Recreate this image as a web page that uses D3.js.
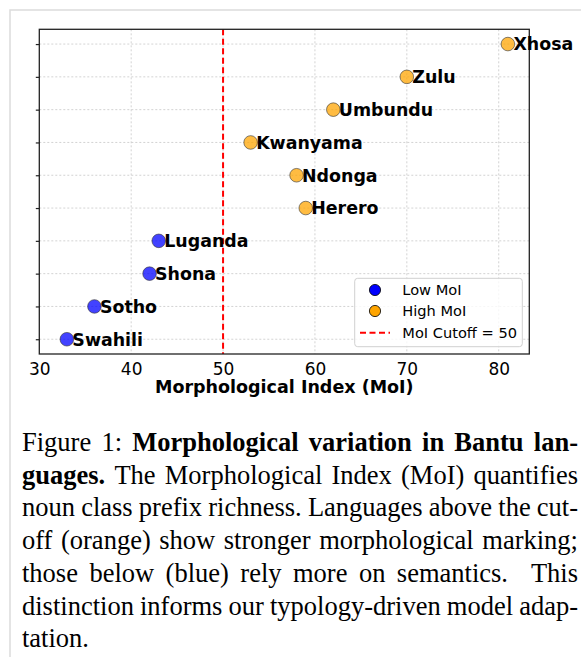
<!DOCTYPE html>
<html lang="en">
<head>
<meta charset="UTF-8">
<title>Morphological Index</title>
<script src="https://cdn.jsdelivr.net/npm/d3@7"></script>
<style>
    body { margin: 0; background: #fff; }
    svg { display: block; }
</style>
</head>
<body>
<div id="fig"></div>
<script>
    // data (bottom to top)
    const languages = ["Swahili", "Sotho", "Shona", "Luganda", "Herero", "Ndonga", "Kwanyama", "Umbundu", "Zulu", "Xhosa"]
    const moi = [33, 36, 42, 43, 59, 58, 53, 62, 70, 81]
    const cutoff = 50
    const xTicks = [30, 40, 50, 60, 70, 80]
    const legendLabels = ["Low MoI", "High MoI", "MoI Cutoff = 50"]

    // caption lines, each a list of [text, bold]
    const captionLines = [
        [["Figure 1:", false], ["Morphological variation in Bantu lan-", true]],
        [["guages.", true], ["The Morphological Index (MoI) quantifies", false]],
        [["noun class prefix richness. Languages above the cut-", false]],
        [["off (orange) show stronger morphological marking;", false]],
        [["those below (blue) rely more on semantics.  This", false]],
        [["distinction informs our typology-driven model adap-", false]],
        [["tation.", false]]
    ]

    const W = 581, H = 657
    const plot = {left: 39.3, top: 29.3, right: 529.3, bottom: 354}
    const blue = "#0000ff", orange = "#ffa500"

    let svg = d3.select("#fig").append("svg")
        .attr("width", W).attr("height", H)
        .style("font-family", "'DejaVu Sans', sans-serif")

    // page frame
    svg.append("rect")
        .attr("x", 10).attr("y", 10).attr("width", 700).attr("height", 800)
        .attr("fill", "none").attr("stroke", "#dcdcdc").attr("stroke-width", 1.5)

    const data = languages.map((d, i) => ({name: d, value: moi[i]}))

    const xScale = d3.scaleLinear().domain([30, 83.33]).range([plot.left, plot.right])
    const yScale = d3.scalePoint().domain(languages).range([plot.bottom, plot.top]).padding(0.45)

    // grid
    let grid = svg.append("g")
    grid.selectAll(".vgrid").data(xTicks.filter(d => d > 30)).enter().append("line")
        .attr("x1", d => xScale(d)).attr("x2", d => xScale(d))
        .attr("y1", plot.top).attr("y2", plot.bottom)
        .attr("stroke", "#c8c8c8").attr("stroke-width", 0.8).attr("stroke-dasharray", "2,2")
    grid.selectAll(".hgrid").data(languages).enter().append("line")
        .attr("x1", plot.left).attr("x2", plot.right)
        .attr("y1", d => yScale(d)).attr("y2", d => yScale(d))
        .attr("stroke", "#c8c8c8").attr("stroke-width", 0.8).attr("stroke-dasharray", "2,2")

    // cutoff line
    svg.append("line")
        .attr("x1", xScale(cutoff)).attr("x2", xScale(cutoff))
        .attr("y1", plot.top).attr("y2", plot.bottom)
        .attr("stroke", "red").attr("stroke-width", 2).attr("stroke-dasharray", "6,3.5")

    // points
    svg.selectAll(".pt").data(data).enter().append("circle")
        .attr("cx", d => xScale(d.value)).attr("cy", d => yScale(d.name))
        .attr("r", 6.8)
        .attr("fill", d => d.value > cutoff ? orange : blue)
        .attr("fill-opacity", 0.74)
        .attr("stroke", "#333").attr("stroke-opacity", 0.6).attr("stroke-width", 1)

    // frame of axes
    svg.append("rect")
        .attr("x", plot.left).attr("y", plot.top)
        .attr("width", plot.right - plot.left).attr("height", plot.bottom - plot.top)
        .attr("fill", "none").attr("stroke", "#222").attr("stroke-width", 1.3)

    // axes
    const xAxis = svg.append("g")
        .attr("transform", `translate(0,${plot.bottom})`)
        .call(d3.axisBottom(xScale).tickValues(xTicks).tickSize(0).tickPadding(8.5))
    xAxis.select(".domain").remove()
    xAxis.selectAll("text").attr("font-size", 17).attr("fill", "#000")
        .style("font-family", "'DejaVu Sans', sans-serif")

    const yAxis = svg.append("g")
        .attr("transform", `translate(${plot.left},0)`)
        .call(d3.axisLeft(yScale).tickSize(3.5).tickFormat(""))
    yAxis.select(".domain").remove()
    yAxis.selectAll("line").attr("stroke", "#222").attr("stroke-width", 1.2)

    svg.append("text")
        .attr("x", (plot.left + plot.right) / 2).attr("y", 392.7)
        .attr("text-anchor", "middle").attr("font-weight", "bold").attr("font-size", 17.5)
        .text("Morphological Index (MoI)")

    // point labels
    svg.selectAll(".lbl").data(data).enter().append("text")
        .attr("x", d => xScale(d.value) + 5.5).attr("y", d => yScale(d.name))
        .attr("dy", "0.36em")
        .attr("font-weight", "bold").attr("font-size", 17.4)
        .text(d => d.name)

    // legend
    let legend = svg.append("g").attr("transform", "translate(354.7,278.3)")
    legend.append("rect")
        .attr("width", 167.6).attr("height", 68.4).attr("rx", 3)
        .attr("fill", "#fff").attr("fill-opacity", 0.8)
        .attr("stroke", "#d0d0d0").attr("stroke-width", 1)
    const rowY = [11.7, 32.7, 54.4]
    legend.append("circle").attr("cx", 20.3).attr("cy", rowY[0]).attr("r", 5.6)
        .attr("fill", blue).attr("stroke", "#000").attr("stroke-width", 0.8)
    legend.append("circle").attr("cx", 20.3).attr("cy", rowY[1]).attr("r", 5.6)
        .attr("fill", orange).attr("stroke", "#000").attr("stroke-width", 0.8)
    legend.append("line").attr("x1", 5.3).attr("x2", 35.3).attr("y1", rowY[2]).attr("y2", rowY[2])
        .attr("stroke", "red").attr("stroke-width", 2).attr("stroke-dasharray", "6,3.5")
    legend.selectAll(".ltxt").data(legendLabels).enter().append("text")
        .attr("x", 47.6).attr("y", (d, i) => rowY[i]).attr("dy", "0.36em")
        .attr("font-size", 14.6).text(d => d)

    // caption, justified word by word (double space = wider gap)
    const cap = {left: 22, right: 578, top: 451, lead: 32.7, size: 26.5}
    captionLines.forEach((line, li) => {
        let words = []
        line.forEach(([t, b], si) => {
            t.split(" ").forEach((w, wi) => {
                if (w === "") { words[words.length - 1].extra += 1; return }
                words.push({w: w, b: b, extra: 0})
            })
        })
        let y = cap.top + li * cap.lead
        let nodes = words.map(d => svg.append("text")
            .attr("y", y)
            .attr("font-family", "'Liberation Serif', 'Times New Roman', serif")
            .attr("font-size", cap.size)
            .attr("font-weight", d.b ? "bold" : "normal")
            .text(d.w))
        let widths = nodes.map(n => n.node().getComputedTextLength())
        let total = d3.sum(widths)
        let weights = words.slice(0, -1).map(d => 1 + d.extra)
        let last = li === captionLines.length - 1
        let unit = last ? cap.size * 0.25 : (cap.right - cap.left - total) / d3.sum(weights)
        let x = cap.left
        nodes.forEach((n, i) => {
            n.attr("x", x)
            x += widths[i] + (i < weights.length ? unit * weights[i] : 0)
        })
    })
</script>
</body>
</html>
